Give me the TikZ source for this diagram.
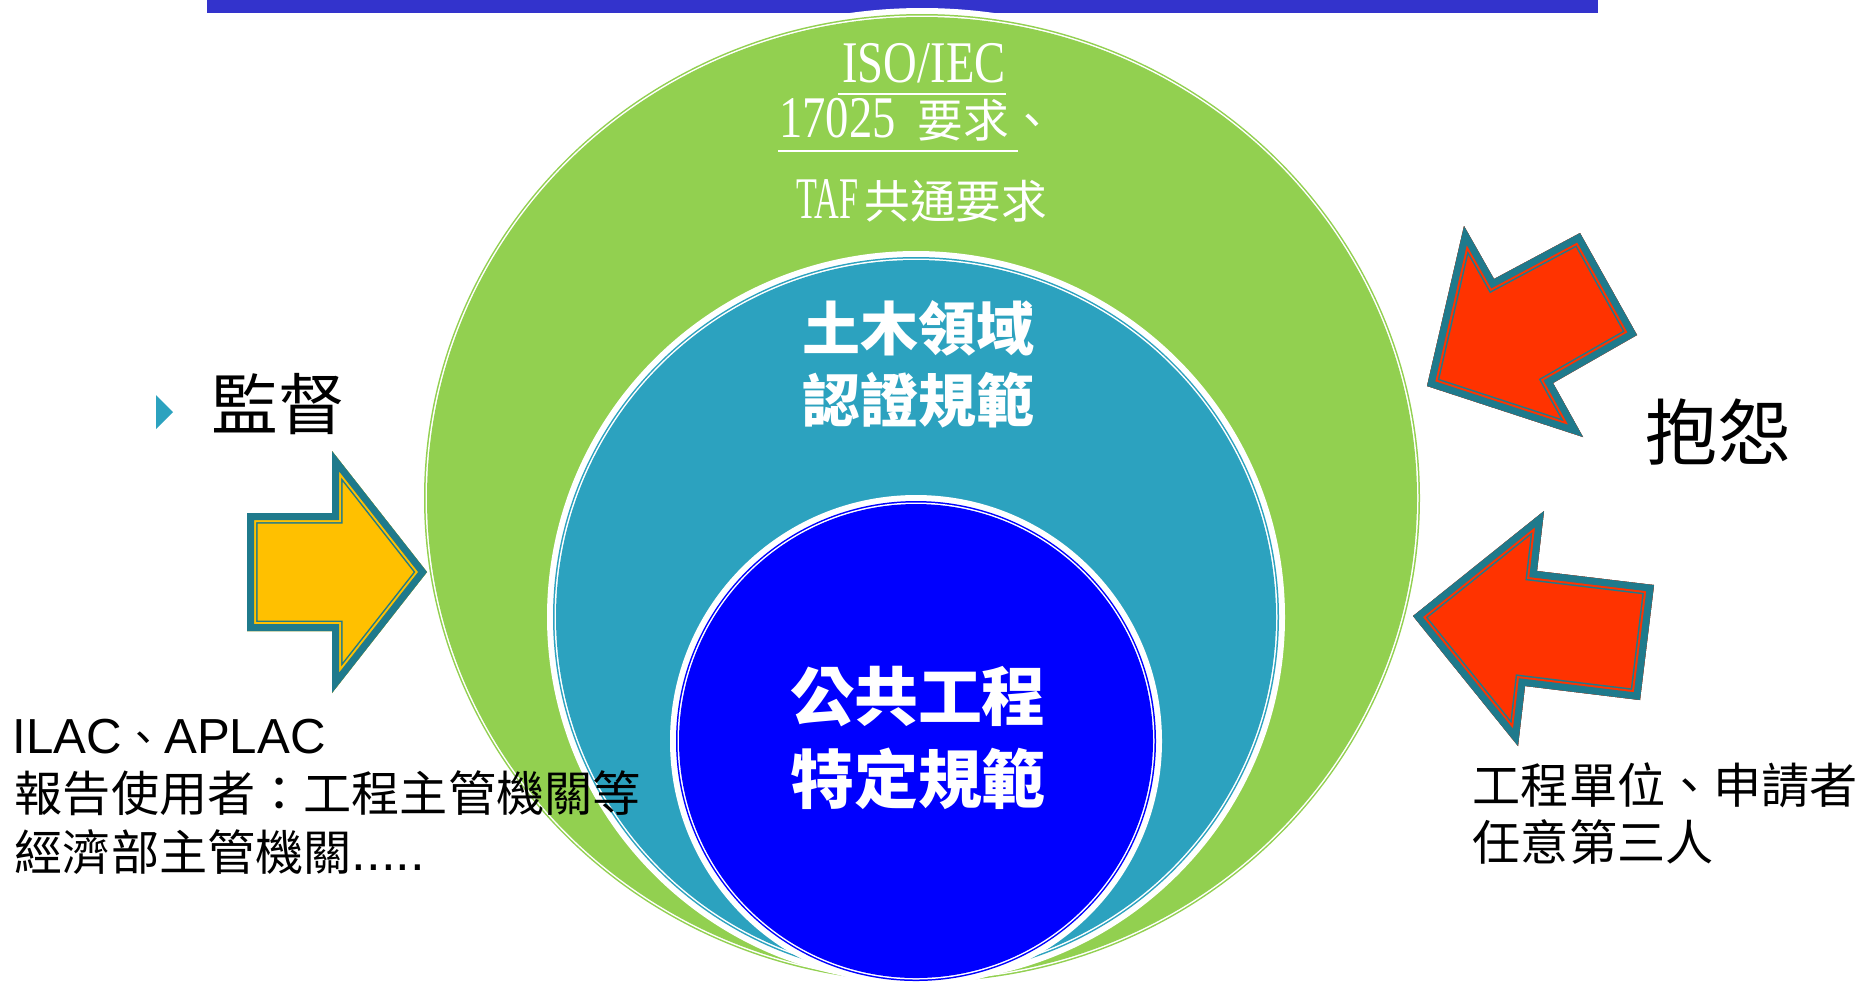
\documentclass[tikz,border=0pt]{standalone}
\usepackage{fontspec}
\setmainfont{Liberation Sans}
\newfontfamily\cjk{Noto Sans CJK TC}
\newfontfamily\serifnarrow[FakeStretch=0.79]{Liberation Serif}
\newfontfamily\serifnarrower[FakeStretch=0.58]{Liberation Serif}
\usepackage{tikz}
\usetikzlibrary{positioning}

\definecolor{barblue}{HTML}{3333CC}
\definecolor{ringgreen}{HTML}{92D050}
\definecolor{ringteal}{HTML}{2CA2BF}
\definecolor{ringblue}{HTML}{0000FF}
\definecolor{arrowedge}{HTML}{1F7A8C}
\definecolor{arrowyellow}{HTML}{FFC000}
\definecolor{arrowred}{HTML}{FF3300}

\newcommand{\topcjk}{\cjk\fontsize{13}{16}\selectfont}
% disc with white glow and thin double rim: centre, x radius, y radius, colour
\newcommand{\ringdisc}[4]{
  \foreach \d/\c in {9/white, 3/#4, 1.5/white, 0/#4}
    \fill[\c] (#1) ellipse [x radius=#2+\d, y radius=#3+\d];
}
% block arrow with teal rim and thin inner lines: fill colour, outline path
\newcommand{\fatarrow}[2]{
  \fill[#1] #2;
  \begin{scope}
    \clip #2;
    \draw[arrowedge, line width=2.1mm] #2;
    \draw[#1, line width=1.8mm] #2;
    \draw[arrowedge, line width=1.4mm] #2;
  \end{scope}
}

\tikzset{
  toptext/.style={anchor=base, white, inner sep=0, font=\serifnarrow\fontsize{16.8}{20}\selectfont},
  fieldtext/.style={white, inner sep=0, font=\cjk\bfseries\fontsize{16.5}{20}\selectfont},
  publictext/.style={white, inner sep=0, font=\cjk\bfseries\fontsize{18.2}{22}\selectfont},
  sidetext/.style={anchor=base west, inner sep=0, font=\fontsize{14}{17}\selectfont},
  notetext/.style={anchor=base west, inner sep=0, font=\cjk\fontsize{13.7}{16}\selectfont},
  pointtext/.style={anchor=west, inner sep=0, font=\cjk\fontsize{13.7}{16}\selectfont},
}

\begin{document}
\begin{tikzpicture}[x=0.1mm, y=-0.1mm, line join=miter]
\useasboundingbox (0,0) rectangle (1860,985);

% Title bar
\fill[barblue] (207,0) rectangle (1598,13);

% Nested discs
\ringdisc{922,498}{495}{481}{ringgreen}
\ringdisc{916,617}{360}{357}{ringteal}
\ringdisc{916,741}{237}{237}{ringblue}

% Outer disc text
\node[toptext] (iso) at (924,82) {ISO/IEC};
\node[toptext] (std) at (917,137) {17025\hspace{2.2mm}{\topcjk 要求、}};
\node[toptext] (taf) at (922,218) {{\serifnarrower TAF}\hspace{0.6mm}{\topcjk 共通要求}};
\draw[white, line width=0.2mm] (838,94) -- (1006,94);
\draw[white, line width=0.2mm] (778,151) -- (1018,151);

% Middle and inner disc text
\node[fieldtext] (field) at (918,328) {土木領域};
\node[fieldtext] (accredit) at (918,400) {認證規範};
\node[publictext] (public) at (918,697) {公共工程};
\node[publictext] (specific) at (918,779) {特定規範};

% Left side
\fill[ringteal] (156,395) -- (173,412) -- (156,429) -- cycle;
\node[inner sep=0, font=\cjk\fontsize{19}{22}\selectfont] (supervise) at (278,404) {監督};
\node[sidetext] (ilac) at (12,753) {ILAC{\cjk\fontsize{12}{16}\selectfont 、}APLAC};
\node[notetext] (users) at (14,811) {報告使用者：工程主管機關等};
\node[notetext] (moea) at (14,870) {經濟部主管機關{\rmfamily\fontsize{15}{18}\selectfont .....}};
\fatarrow{arrowyellow}{(247,513) -- (332,513) -- (332,451) -- (427,572) -- (332,693) -- (332,631) -- (247,631) -- cycle}

% Right side
\fatarrow{arrowred}{(1427,386) -- (1464,226) -- (1494,279) -- (1580,233) -- (1637,335) -- (1553,383) -- (1583,437) -- cycle}
\fatarrow{arrowred}{(1413,616) -- (1544,511) -- (1537,571) -- (1654,585) -- (1640,700) -- (1525,686) -- (1518,746) -- cycle}
\node[inner sep=0, font=\cjk\fontsize{20.5}{24}\selectfont] (complain) at (1718,432) {抱怨};
\node[pointtext] (units) at (1472,785) {工程單位、申請者};
\node[pointtext] (anyone) at (1472,842) {任意第三人};

\end{tikzpicture}
\end{document}
